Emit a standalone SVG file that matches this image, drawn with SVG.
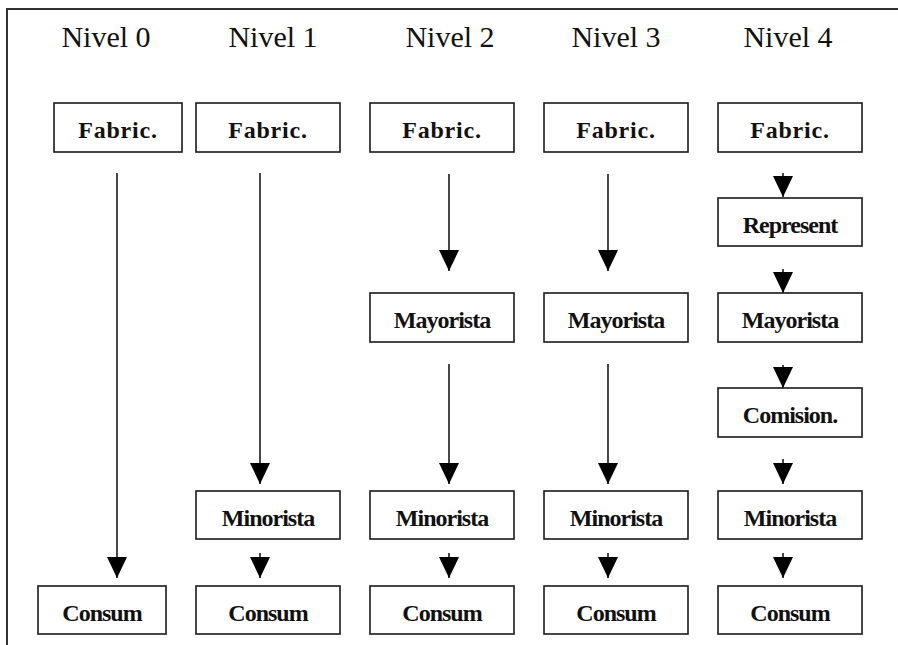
<svg xmlns="http://www.w3.org/2000/svg" width="898" height="645" viewBox="0 0 898 645">
<style>
.frame{fill:none;stroke:#333;stroke-width:2}
.box{fill:#fff;stroke:#1a1a1a;stroke-width:1.6}
.title{font-family:"Liberation Serif","Times New Roman",serif;font-size:30px;fill:#111;text-anchor:middle}
.fab{font-family:"Liberation Serif","Times New Roman",serif;font-size:24px;font-weight:bold;letter-spacing:0.8px;fill:#111;text-anchor:middle}
.lbl{font-family:"Liberation Serif","Times New Roman",serif;font-size:24px;font-weight:bold;letter-spacing:-1px;fill:#111;text-anchor:middle}
.conn line{stroke:#1a1a1a;stroke-width:1.6;marker-end:url(#ah)}
</style>
<defs>
<marker id="ah" viewBox="0 0 21 20" refX="21" refY="10" markerWidth="21" markerHeight="20" markerUnits="userSpaceOnUse" orient="auto">
<path d="M0,0 L21,10 L0,20 Z" fill="#000"/>
</marker>
</defs>
<rect width="898" height="645" fill="#fff"/>
<path class="frame" d="M7,645 V9 H898"/>
<g id="titles">
<text class="title" x="106" y="47">Nivel 0</text>
<text class="title" x="273" y="47">Nivel 1</text>
<text class="title" x="450" y="47">Nivel 2</text>
<text class="title" x="616" y="47">Nivel 3</text>
<text class="title" x="788" y="47">Nivel 4</text>
</g>
<g class="conn" id="connectors">
<line x1="117" y1="173" x2="117" y2="578"/>
<line x1="260" y1="173" x2="260" y2="484"/>
<line x1="260" y1="553" x2="260" y2="578"/>
<line x1="449" y1="174" x2="449" y2="271"/>
<line x1="449" y1="364" x2="449" y2="484"/>
<line x1="449" y1="553" x2="449" y2="578"/>
<line x1="608" y1="174" x2="608" y2="271"/>
<line x1="608" y1="364" x2="608" y2="484"/>
<line x1="608" y1="553" x2="608" y2="578"/>
<line x1="783" y1="173" x2="783" y2="197"/>
<line x1="783" y1="269" x2="783" y2="293"/>
<line x1="783" y1="365" x2="783" y2="388"/>
<line x1="783" y1="459" x2="783" y2="484"/>
<line x1="783" y1="553" x2="783" y2="578"/>
</g>
<g id="n0-fab"><rect class="box" x="54" y="103" width="128" height="49"/><text class="fab" x="118" y="138">Fabric.</text></g>
<g id="n0-con"><rect class="box" x="38" y="586" width="128" height="48"/><text class="lbl" x="102" y="621">Consum</text></g>
<g id="n1-fab"><rect class="box" x="196" y="103" width="144" height="49"/><text class="fab" x="268" y="138">Fabric.</text></g>
<g id="n1-min"><rect class="box" x="196" y="491" width="144" height="48"/><text class="lbl" x="268" y="526">Minorista</text></g>
<g id="n1-con"><rect class="box" x="196" y="586" width="144" height="48"/><text class="lbl" x="268" y="621">Consum</text></g>
<g id="n2-fab"><rect class="box" x="370" y="103" width="144" height="49"/><text class="fab" x="442" y="138">Fabric.</text></g>
<g id="n2-may"><rect class="box" x="370" y="293" width="144" height="49"/><text class="lbl" x="442" y="328">Mayorista</text></g>
<g id="n2-min"><rect class="box" x="370" y="491" width="144" height="48"/><text class="lbl" x="442" y="526">Minorista</text></g>
<g id="n2-con"><rect class="box" x="370" y="586" width="144" height="48"/><text class="lbl" x="442" y="621">Consum</text></g>
<g id="n3-fab"><rect class="box" x="544" y="103" width="144" height="49"/><text class="fab" x="616" y="138">Fabric.</text></g>
<g id="n3-may"><rect class="box" x="544" y="293" width="144" height="49"/><text class="lbl" x="616" y="328">Mayorista</text></g>
<g id="n3-min"><rect class="box" x="544" y="491" width="144" height="48"/><text class="lbl" x="616" y="526">Minorista</text></g>
<g id="n3-con"><rect class="box" x="544" y="586" width="144" height="48"/><text class="lbl" x="616" y="621">Consum</text></g>
<g id="n4-fab"><rect class="box" x="718" y="103" width="144" height="49"/><text class="fab" x="790" y="138">Fabric.</text></g>
<g id="n4-rep"><rect class="box" x="718" y="198" width="144" height="48"/><text class="lbl" x="790" y="233">Represent</text></g>
<g id="n4-may"><rect class="box" x="718" y="293" width="144" height="49"/><text class="lbl" x="790" y="328">Mayorista</text></g>
<g id="n4-com"><rect class="box" x="718" y="388" width="144" height="49"/><text class="lbl" x="790" y="423">Comision.</text></g>
<g id="n4-min"><rect class="box" x="718" y="491" width="144" height="48"/><text class="lbl" x="790" y="526">Minorista</text></g>
<g id="n4-con"><rect class="box" x="718" y="586" width="144" height="48"/><text class="lbl" x="790" y="621">Consum</text></g>
</svg>
